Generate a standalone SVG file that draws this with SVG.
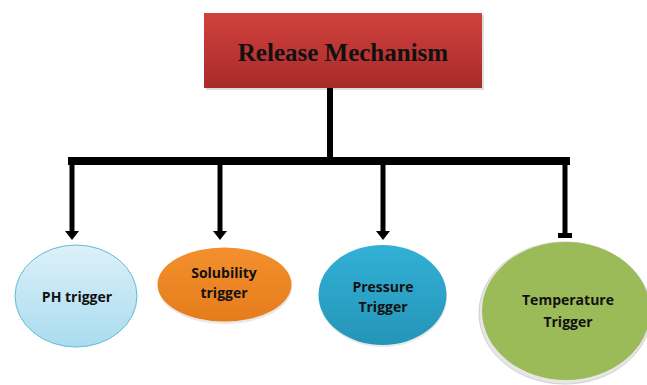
<svg xmlns="http://www.w3.org/2000/svg" width="647" height="385" viewBox="0 0 647 385">
<defs>
<linearGradient id="gRed" x1="0" y1="0" x2="0" y2="1"><stop offset="0" stop-color="#d0413d"/><stop offset="1" stop-color="#a92b2b"/></linearGradient>
<linearGradient id="gLB" x1="0" y1="0" x2="0" y2="1"><stop offset="0" stop-color="#dcf0f9"/><stop offset="1" stop-color="#a9dcef"/></linearGradient>
<linearGradient id="gOr" x1="0" y1="0" x2="0" y2="1"><stop offset="0" stop-color="#f3902d"/><stop offset="1" stop-color="#e57c1c"/></linearGradient>
<linearGradient id="gBl" x1="0" y1="0" x2="0" y2="1"><stop offset="0" stop-color="#33b0d6"/><stop offset="1" stop-color="#2495b8"/></linearGradient>
<marker id="ah" markerWidth="9" markerHeight="14" refX="0" refY="7" orient="auto" markerUnits="userSpaceOnUse"><path d="M0,0 L9,7 L0,14 Z" fill="#000"/></marker>
</defs>
<style>
.lbl{font-family:"Open Sans","Liberation Sans",sans-serif;font-weight:bold;font-size:14px;fill:#111;text-anchor:middle}
.conn{stroke:#000;fill:none}
</style>
<rect width="647" height="385" fill="#fff"/>
<g id="release-mechanism">
<rect x="206" y="15" width="278" height="75" fill="#c8c8c8" opacity="0.6"/>
<rect x="204" y="13" width="278" height="75" fill="url(#gRed)"/>
<text x="343" y="61" font-family="Liberation Serif,serif" font-weight="bold" font-size="25" fill="#111" text-anchor="middle">Release Mechanism</text>
</g>
<g id="connectors">
<path class="conn" d="M330,88 V161" stroke-width="6"/>
<path class="conn" d="M68,161 H570" stroke-width="8"/>
<path class="conn" d="M72,161 V231" stroke-width="5" marker-end="url(#ah)"/>
<path class="conn" d="M220,161 V231" stroke-width="5" marker-end="url(#ah)"/>
<path class="conn" d="M383,161 V231" stroke-width="5" marker-end="url(#ah)"/>
<path class="conn" d="M565,161 V234" stroke-width="5"/>
<rect x="558" y="233" width="14" height="5" fill="#000"/>
</g>
<g id="ph-trigger">
<ellipse cx="76" cy="296" rx="61" ry="51" fill="url(#gLB)" stroke="#62bcd3" stroke-width="1"/>
<text class="lbl" x="77" y="302">PH trigger</text>
</g>
<g id="solubility-trigger">
<ellipse cx="225" cy="287" rx="67" ry="37" fill="#d9d9d9" opacity="0.6"/>
<ellipse cx="224.5" cy="284.5" rx="67" ry="37" fill="url(#gOr)"/>
<text class="lbl" x="224" y="278">Solubility</text>
<text class="lbl" x="224" y="298">trigger</text>
</g>
<g id="pressure-trigger">
<ellipse cx="383" cy="297" rx="64" ry="50" fill="#d9d9d9" opacity="0.6"/>
<ellipse cx="382.5" cy="295" rx="64" ry="50" fill="url(#gBl)"/>
<text class="lbl" x="383" y="292">Pressure</text>
<text class="lbl" x="383" y="312">Trigger</text>
</g>
<g id="temperature-trigger">
<ellipse cx="565" cy="313" rx="86" ry="71" fill="#e6e6e6" stroke="#d0d0d0" stroke-width="1"/>
<ellipse cx="566" cy="311" rx="84" ry="69" fill="#9bbb59"/>
<text class="lbl" x="568" y="305">Temperature</text>
<text class="lbl" x="568" y="327">Trigger</text>
</g>
</svg>
